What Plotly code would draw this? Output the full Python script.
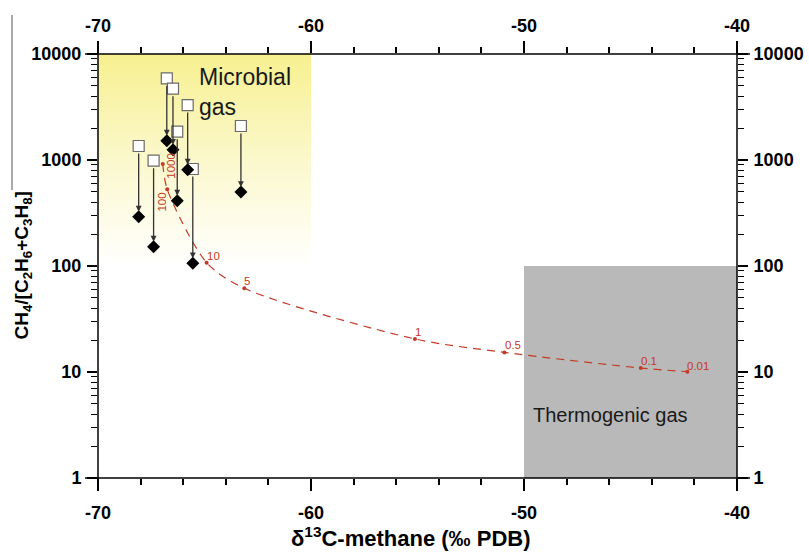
import plotly.graph_objects as go
import math

# ---------------- data ----------------
sample_x = [-66.77, -66.48, -65.79, -66.28, -68.09, -67.39, -65.55, -63.29]
before_y = [5900, 4710, 3300, 1850, 1355, 985, 822, 2093]
after_y = [1521, 1250, 810, 413, 292, 152, 106, 499]

mix_x = [-66.96, -66.75, -64.90, -63.13, -55.12, -50.92, -44.52, -42.33]
mix_y = [917, 529, 107.5, 61.6, 20.5, 15.3, 10.9, 10.07]
mix_labels = ["1000", "100", "10", "5", "1", "0.5", "0.1", "0.01"]

microbial_x = [-70, -60]
microbial_y = [100, 10000]
thermo_x = [-50, -40]
thermo_y = [1, 100]

x_ticks = [-70, -60, -50, -40]
x_ticktext = ["-70", "-60", "-50", "-40"]
y_ticks = [1, 10, 100, 1000, 10000]
y_ticktext = ["1", "10", "100", "1000", "10000"]

# ---------------- style ----------------
FONT = "Arial, Liberation Sans, sans-serif"
RED = "#c43a25"
label_shift = {  # pixel offsets of mixing labels (dx, dy, angle)
    "1000": (8, -2, -90), "100": (-5, -13, -90), "10": (7, 7, 0), "5": (3, 7, 0),
    "1": (3, 7, 0), "0.5": (9, 7, 0), "0.1": (8, 7, 0), "0.01": (11, 6, 0),
}

fig = go.Figure()

# microbial region (gradient)
fig.add_trace(go.Scatter(
    x=[microbial_x[0], microbial_x[1], microbial_x[1], microbial_x[0], microbial_x[0]],
    y=[microbial_y[0], microbial_y[0], microbial_y[1], microbial_y[1], microbial_y[0]],
    mode="lines", line=dict(width=0), fill="toself",
    fillgradient=dict(type="vertical",
                      colorscale=[[0, "rgba(255,255,255,1)"], [0.5, "#fbf8cc"], [1, "#f7f090"]]),
    hoverinfo="skip", showlegend=False))

# thermogenic region
fig.add_trace(go.Scatter(
    x=[thermo_x[0], thermo_x[1], thermo_x[1], thermo_x[0], thermo_x[0]],
    y=[thermo_y[0], thermo_y[0], thermo_y[1], thermo_y[1], thermo_y[0]],
    mode="lines", line=dict(width=0), fill="toself", fillcolor="#b9b9b9",
    hoverinfo="skip", showlegend=False))

# mixing curve
fig.add_trace(go.Scatter(
    x=mix_x, y=mix_y, mode="lines+markers",
    line=dict(color=RED, width=1.2, dash="8px,6px", shape="spline", smoothing=0.8),
    marker=dict(color=RED, size=4), hoverinfo="skip", showlegend=False))

# samples
fig.add_trace(go.Scatter(
    x=sample_x, y=before_y, mode="markers",
    marker=dict(symbol="square", size=11, color="white", line=dict(color="#6a6a6a", width=1.2)),
    showlegend=False))
fig.add_trace(go.Scatter(
    x=sample_x, y=after_y, mode="markers",
    marker=dict(symbol="diamond", size=10, color="black"),
    showlegend=False))

# dummy trace for secondary axes
fig.add_trace(go.Scatter(x=[x_ticks[0]], y=[y_ticks[0]], xaxis="x2", yaxis="y2",
                         mode="markers", marker=dict(opacity=0), hoverinfo="skip", showlegend=False))

annotations = []
for xs, y0, y1 in zip(sample_x, before_y, after_y):
    annotations.append(dict(
        x=xs, y=math.log10(y1), ax=xs, ay=math.log10(y0), xref="x", yref="y",
        axref="x", ayref="y", showarrow=True, arrowhead=2, arrowsize=0.9,
        arrowwidth=1.3, arrowcolor="#333333", standoff=5, startstandoff=6, text=""))

for xm, ym, lab in zip(mix_x, mix_y, mix_labels):
    dx, dy, ang = label_shift[lab]
    annotations.append(dict(
        x=xm, y=math.log10(ym), xref="x", yref="y", text=lab, showarrow=False,
        xshift=dx, yshift=dy, textangle=ang, font=dict(family=FONT, size=11.5, color=RED)))

annotations.append(dict(x=-65.35, y=math.log10(5900), xref="x", yref="y",
                        text="Microbial<br>gas", showarrow=False, xanchor="left", yanchor="middle",
                        yshift=-14, align="left",
                        font=dict(family=FONT, size=23, color="#1a1a1a")))
annotations.append(dict(x=-45.96, y=math.log10(3.93), xref="x", yref="y",
                        text="Thermogenic gas", showarrow=False,
                        font=dict(family=FONT, size=20, color="#1a1a1a")))
annotations.append(dict(x=(532 - 98) / 639, y=-0.176, xref="paper", yref="paper", xanchor="right",
                        text="δ<sup>13</sup>C-methane (‰ PDB)", showarrow=False,
                        font=dict(family=FONT, size=22, color="black", weight="bold")))
annotations.append(dict(x=-0.14, y=0.5, xref="paper", yref="paper", textangle=-90,
                        text="CH<sub>4</sub>/[C<sub>2</sub>H<sub>6</sub>+C<sub>3</sub>H<sub>8</sub>]",
                        showarrow=False,
                        font=dict(family=FONT, size=19, color="black", weight="bold")))

# axis line extensions and stray left line
ex = 13 / 639
ey = 13 / 424
shapes = [
    dict(type="line", xref="paper", yref="paper", x0=-ex, x1=1 + ex, y0=0, y1=0, line=dict(color="black", width=1.5)),
    dict(type="line", xref="paper", yref="paper", x0=-ex, x1=1 + ex, y0=1, y1=1, line=dict(color="black", width=1.5)),
    dict(type="line", xref="paper", yref="paper", x0=0, x1=0, y0=-ey, y1=1 + ey, line=dict(color="black", width=1.5)),
    dict(type="line", xref="paper", yref="paper", x0=1, x1=1, y0=-ey, y1=1 + ey, line=dict(color="black", width=1.5)),
    dict(type="line", xref="paper", yref="paper", x0=(12 - 98) / 639, x1=(12 - 98) / 639,
         y0=(478 - 190) / 424, y1=(478 - 15) / 424, line=dict(color="#555", width=1)),
]

tickfont = dict(family=FONT, size=18, color="black", weight="bold")
xcommon = dict(range=[-70, -40], tickvals=x_ticks, ticktext=x_ticktext, ticks="outside",
               ticklen=12, tickwidth=1.5, tickcolor="black", showline=False, showgrid=False,
               zeroline=False, tickfont=tickfont, automargin=False,
               minor=dict(dtick=2, ticks="outside", ticklen=6, tickwidth=1.5, tickcolor="black", showgrid=False))
ycommon = dict(type="log", range=[0, 4], tickvals=y_ticks, ticktext=y_ticktext, ticks="outside",
               ticklen=10, tickwidth=1.5, tickcolor="black", showline=False, showgrid=False,
               zeroline=False, tickfont=tickfont, ticklabelstandoff=2, automargin=False,
               minor=dict(tickvals=[m * 10 ** d for d in range(4) for m in range(2, 10)],
                          ticks="outside", ticklen=6, tickwidth=1.2, tickcolor="black", showgrid=False))

fig.update_layout(
    width=809, height=560,
    margin=dict(l=98, r=72, t=54, b=82),
    paper_bgcolor="white", plot_bgcolor="white",
    xaxis=dict(**xcommon, side="bottom", ticklabelstandoff=6),
    xaxis2=dict(**xcommon, side="top", overlaying="x", anchor="y", ticklabelstandoff=2),
    yaxis=dict(**ycommon, side="left"),
    yaxis2=dict(**ycommon, side="right", overlaying="y", anchor="x"),
    annotations=annotations, shapes=shapes, showlegend=False,
)

fig.write_html("out.html")
